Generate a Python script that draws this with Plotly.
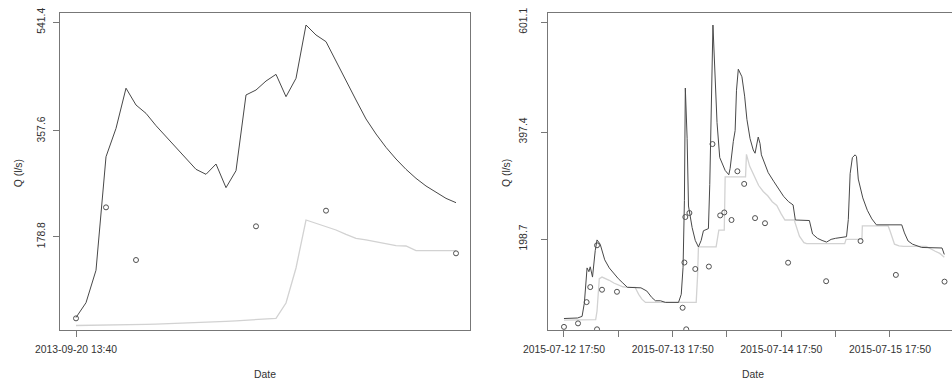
import pandas as pd
import plotly.graph_objects as go

# ---------------- data: left panel (hourly from start) ----------------
left_start = pd.Timestamp("2013-09-20 13:40")
left_hours = list(range(39))
left_model = [42.0, 67.1, 122.0, 314.0, 362.0, 430.0, 401.5, 387.4, 366.6, 348.0,
              328.2, 310.2, 292.7, 284.3, 301.7, 261.7, 290.4, 418.5, 426.9, 442.1,
              453.4, 415.6, 446.7, 536.9, 520.0, 508.7, 474.9, 442.1, 410.0, 377.9,
              352.5, 329.9, 310.2, 292.7, 277.5, 264.5, 253.3, 243.6, 236.3]
left_sim = [28.5, 28.6, 28.8, 29.0, 29.3, 29.6, 30.0, 30.4, 30.9, 31.4,
            32.0, 32.6, 33.3, 34.0, 34.8, 35.6, 36.5, 37.4, 38.5, 40.4,
            40.6, 66.6, 125.8, 207.0, 201.4, 195.7, 190.1, 182.7, 176.0, 173.2,
            170.4, 166.4, 163.6, 163.0, 155.1, 155.1, 155.1, 155.1, 155.1]
left_obs_hours = [0, 3, 6, 18, 25, 38]
left_obs = [40.6, 228.4, 139.3, 196.3, 222.8, 150.6]

# ---------------- data: right panel (hours from start) ----------------
right_start = pd.Timestamp("2015-07-12 17:50")
right_model_hours = [0, 1, 2, 3, 4, 4.5, 5.1, 5.5, 5.8, 6.3, 6.9, 7.3, 8, 9, 10, 11, 12, 13, 14, 17,
                     18.3, 19.4, 20.2, 21.3, 22.4, 25.3, 25.9, 26.3, 26.6, 26.8, 27.2, 27.5, 28.3, 29,
                     29.7, 30.3, 30.8, 31.9, 32.2, 32.9, 33.3, 33.8, 34.4, 35.6, 36.4, 36.7, 37.4, 37.8,
                     38.1, 38.5, 39.3, 39.9, 40.4, 41.1, 41.8, 42.2, 42.9, 43.3, 43.6, 44.3, 45.1, 46.3,
                     47.4, 48.5, 49.6, 50.6, 51.1, 54.2, 54.9, 56, 57, 58, 59, 60, 62.4, 62.8, 63.2,
                     63.7, 64.3, 64.6, 65, 66, 67, 68, 69, 74.6, 75.2, 76, 77, 78, 79, 83.5, 84]
right_model = [51, 51, 52, 52, 55, 80, 145, 138, 147, 128, 177, 197, 189, 160, 145, 134, 125, 117, 109, 108,
               102, 90, 84, 84, 81, 81, 96, 146, 270, 479, 385, 260, 220, 196,
               184, 196, 214, 218, 300, 596, 522, 415, 350, 326, 318, 330, 380, 400,
               475, 514, 500, 464, 421, 385, 364, 358, 388, 376, 355, 338, 322, 306,
               292, 278, 268, 262, 234, 233, 208, 200, 196, 193, 198, 200, 203, 235, 320,
               350, 355, 352, 310, 275, 252, 236, 225, 225, 210, 195, 189, 186, 183, 182, 170]
right_sim_hours = [0, 7.0, 7.3, 7.8, 8.4, 9, 10, 11, 12, 13, 14, 15.7, 16.5, 17.2, 18, 29.2, 29.5, 29.7,
                   33.6, 34.2, 35.4, 35.6, 40.1, 40.3, 41, 42, 43, 44, 45, 46, 47, 48, 48.8, 50.9,
                   51, 52, 53, 53.6, 62, 62.3, 65.8, 65.9, 71.6, 72, 73, 74, 75, 80, 81, 82, 83, 84]
right_sim = [48, 49, 65, 125, 128, 126, 122, 117, 114, 110, 109, 109, 96, 87, 81, 81, 130, 184,
             184, 215, 215, 314, 314, 356, 334, 316, 298, 287, 279, 268, 261, 245, 234, 234,
             230, 204, 192, 190, 190, 198, 198, 223, 223, 214, 189, 186, 185, 185, 180, 176, 172, 165]
right_obs_hours = [0, 3.1, 5.0, 5.8, 7.3, 7.3, 8.4, 11.7, 26.2, 26.6, 26.8, 27.0, 27.7, 29.0, 32.0,
                   32.8, 34.5, 35.4, 37.0, 38.3, 39.8, 42.2, 44.4, 49.5, 57.9, 65.5, 73.3, 84.05]
right_obs = [35.5, 42, 81.5, 109.4, 187, 31, 104.5, 100.7, 71, 155, 239.5, 31, 247, 143, 147.5,
             375, 242.5, 248, 234, 324.5, 301, 237.5, 228, 154.7, 120.3, 195, 132, 119.5]

# ---------------- ticks ----------------
left_yticks = [178.8, 357.6, 541.4]
right_yticks = [198.7, 397.4, 601.1]
left_xtick_hours = [0]
left_xtick_labels = ["2013-09-20 13:40"]
right_xtick_hours = [0, 12, 24, 36, 48, 60, 72]
right_xtick_labels = ["2015-07-12 17:50", "", "2015-07-13 17:50", "", "2015-07-14 17:50", "",
                      "2015-07-15 17:50"]


def t(start, hours):
    return [start + pd.Timedelta(hours=h) for h in hours]


FONT = "Liberation Sans, Arial, sans-serif"
TXT = "#333333"
AX = "#777777"
DARK = "#484848"
LIGHT = "#d2d2d2"
PT = "#505050"

fig = go.Figure()
# left panel
fig.add_trace(go.Scatter(x=t(left_start, left_hours), y=left_sim, mode="lines",
                         line=dict(color=LIGHT, width=1.3), xaxis="x", yaxis="y"))
fig.add_trace(go.Scatter(x=t(left_start, left_hours), y=left_model, mode="lines",
                         line=dict(color=DARK, width=1), xaxis="x", yaxis="y"))
fig.add_trace(go.Scatter(x=t(left_start, left_obs_hours), y=left_obs, mode="markers",
                         marker=dict(symbol="circle-open", size=5, color=PT, line=dict(width=1)),
                         xaxis="x", yaxis="y"))
# right panel
fig.add_trace(go.Scatter(x=t(right_start, right_sim_hours), y=right_sim, mode="lines",
                         line=dict(color=LIGHT, width=1.3), xaxis="x2", yaxis="y2"))
fig.add_trace(go.Scatter(x=t(right_start, right_model_hours), y=right_model, mode="lines",
                         line=dict(color=DARK, width=1), xaxis="x2", yaxis="y2"))
fig.add_trace(go.Scatter(x=t(right_start, right_obs_hours), y=right_obs, mode="markers",
                         marker=dict(symbol="circle-open", size=5, color=PT, line=dict(width=1)),
                         xaxis="x2", yaxis="y2"))

W, H = 952, 382
common_x = dict(type="date", showgrid=False, zeroline=False, showline=True, linecolor=AX,
                linewidth=1, mirror=True, ticks="outside", ticklen=6, tickcolor=AX, automargin=False,
                tickfont=dict(family=FONT, size=10.4, color=TXT), ticklabelstandoff=4)
common_y = dict(showgrid=False, zeroline=False, showline=True, linecolor=AX, linewidth=1,
                ticks="outside", ticklen=6, tickcolor=AX, tickangle=-90, automargin=False,
                tickfont=dict(family=FONT, size=10.4, color=TXT), domain=[0, 1])

fig.update_layout(
    width=W, height=H, margin=dict(l=0, r=0, t=13, b=52, autoexpand=False),
    paper_bgcolor="white", plot_bgcolor="white", showlegend=False,
    xaxis=dict(common_x, domain=[60 / W, 470 / W],
               range=[left_start - pd.Timedelta(hours=1.6), left_start + pd.Timedelta(hours=39.4)],
               tickmode="array", tickvals=t(left_start, left_xtick_hours), ticktext=left_xtick_labels,
               anchor="y"),
    yaxis=dict(common_y, range=[20.9, 557.2], tickmode="array", tickvals=left_yticks,
               ticktext=[str(v) for v in left_yticks], mirror=True, anchor="x",
               ticklabelstandoff=4),
    xaxis2=dict(common_x, domain=[548 / W, 1.0],
                range=[right_start - pd.Timedelta(hours=3.53), right_start + pd.Timedelta(hours=85.7)],
                tickmode="array", tickvals=t(right_start, right_xtick_hours), ticktext=right_xtick_labels,
                anchor="y2"),
    yaxis2=dict(common_y, range=[29.7, 618.4], tickmode="array", tickvals=right_yticks,
                ticktext=[str(v) for v in right_yticks], mirror=False, anchor="x2",
                ticklabelstandoff=10),
)

ann_font = dict(family=FONT, size=10.4, color=TXT)
y_date = (330 - 374.3) / 317
y_mid = (330 - 173) / 317
fig.add_annotation(text="Date", x=265 / W, y=y_date, xref="paper", yref="paper",
                   showarrow=False, xanchor="center", yanchor="middle", font=ann_font)
fig.add_annotation(text="Date", x=753 / W, y=y_date, xref="paper", yref="paper",
                   showarrow=False, xanchor="center", yanchor="middle", font=ann_font)
fig.add_annotation(text="Q (l/s)", x=18.3 / W, y=y_mid, xref="paper", yref="paper", textangle=-90,
                   showarrow=False, xanchor="center", yanchor="middle", font=ann_font)
fig.add_annotation(text="Q (l/s)", x=506 / W, y=y_mid, xref="paper", yref="paper", textangle=-90,
                   showarrow=False, xanchor="center", yanchor="middle", font=ann_font)

fig.write_html("out.html")
